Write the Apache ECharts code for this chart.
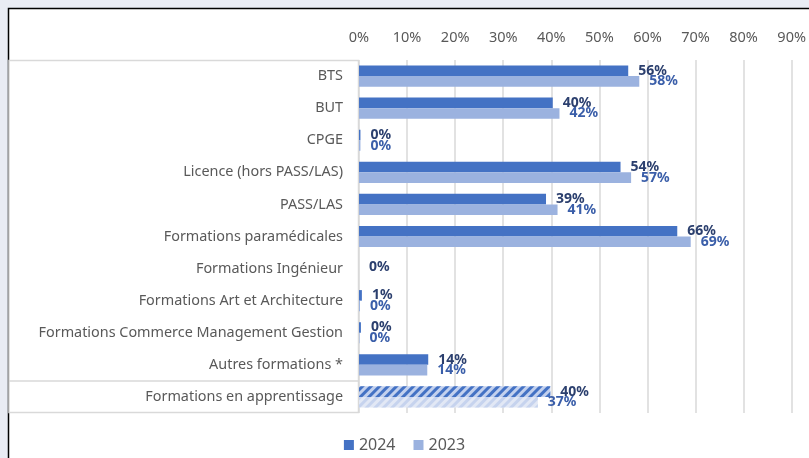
<!DOCTYPE html>
<html>
<head>
<meta charset="utf-8">
<script src="https://cdn.jsdelivr.net/npm/echarts@6/dist/echarts.min.js"></script>
<style>
  html, body { margin: 0; padding: 0; background: #e9ecf4; }
  #chart { width: 809px; height: 458px; }
</style>
</head>
<body>
<div id="chart"></div>
<script>
  // categories top to bottom
  const categories = [
    'BTS', 'BUT', 'CPGE', 'Licence (hors PASS/LAS)', 'PASS/LAS',
    'Formations paramédicales', 'Formations Ingénieur',
    'Formations Art et Architecture', 'Formations Commerce Management Gestion',
    'Autres formations *', 'Formations en apprentissage'
  ];
  // shares
  const values2024 = [0.560, 0.403, 0.003, 0.544, 0.389, 0.662, 0, 0.006, 0.004, 0.144, 0.398];
  const values2023 = [0.583, 0.417, 0.003, 0.566, 0.413, 0.690, null, 0.002, 0.001, 0.142, 0.372];
  const xTicks = [0, 0.1, 0.2, 0.3, 0.4, 0.5, 0.6, 0.7, 0.8, 0.9];

  const font = 'Noto Sans';
  const hatched = 'Formations en apprentissage';

  function buildData(values, year) {
    return values.map(function (v, i) {
      let item = { value: v };
      if (categories[i] === hatched) {
        item.itemStyle = {
          color: year === 2024 ? '#c3d1ee' : '#e2e8f5',
          decal: {
            symbol: 'rect',
            symbolSize: 1,
            dashArrayX: [1, 0],
            dashArrayY: [3, 3],
            rotation: -Math.PI / 4,
            color: year === 2024 ? '#4472c4' : '#c6d3ee'
          }
        };
      }
      if (categories[i] === 'Formations Ingénieur') {
        item.label = { offset: [0, 4] };
      }
      return item;
    });
  }

  let chart = echarts.init(document.getElementById('chart'));

  let option = {
    backgroundColor: '#e9ecf4',
    animation: false,
    graphic: [
      // chart frame
      { type: 'rect', z: -10, shape: { x: 8.5, y: 8.5, width: 900, height: 600 },
        style: { fill: '#fff', stroke: '#000', lineWidth: 1.5 } },
      // category label box
      { type: 'rect', z: -5, shape: { x: 9, y: 60.5, width: 349.5, height: 352 },
        style: { fill: '#fff', stroke: '#d9d9d9', lineWidth: 1.5 } },
      { type: 'line', z: -5, shape: { x1: 9, y1: 381, x2: 358.5, y2: 381 },
        style: { stroke: '#d9d9d9', lineWidth: 1.5 } }
    ],
    grid: { left: 359, right: 17, top: 60, bottom: 45, containLabel: false },
    legend: {
      bottom: 0,
      left: 'center',
      icon: 'rect',
      itemWidth: 10,
      itemHeight: 10,
      itemGap: 18,
      textStyle: { fontFamily: font, fontSize: 16, color: '#595959' },
      data: ['2024', '2023']
    },
    xAxis: {
      type: 'value',
      position: 'top',
      min: 0,
      max: xTicks[xTicks.length - 1],
      interval: 0.1,
      axisLine: { show: false },
      axisTick: { show: false },
      splitLine: { lineStyle: { color: '#d9d9d9', width: 1.5 } },
      axisLabel: {
        margin: 15,
        fontFamily: font, fontSize: 14.5, color: '#595959',
        formatter: function (v) { return Math.round(v * 100) + '%'; }
      }
    },
    yAxis: {
      type: 'category',
      inverse: true,
      data: categories,
      axisLine: { show: false },
      axisTick: { show: false },
      axisLabel: { margin: 16, fontFamily: font, fontSize: 14.4, color: '#595959' }
    },
    series: [
      {
        name: '2024',
        type: 'bar',
        barGap: '0%',
        barCategoryGap: '34%',
        itemStyle: { color: '#4472c4' },
        label: {
          show: true, position: 'right', distance: 10,
          fontFamily: font, fontSize: 14, fontWeight: 'bold', color: '#2b3f6e',
          formatter: function (p) { return Math.round(p.value * 100) + '%'; }
        },
        data: buildData(values2024, 2024)
      },
      {
        name: '2023',
        type: 'bar',
        itemStyle: { color: '#9bb2df' },
        label: {
          show: true, position: 'right', distance: 10,
          fontFamily: font, fontSize: 14, fontWeight: 'bold', color: '#3a5ea9',
          formatter: function (p) { return Math.round(p.value * 100) + '%'; }
        },
        data: buildData(values2023, 2023)
      }
    ]
  };

  chart.setOption(option);
</script>
</body>
</html>
